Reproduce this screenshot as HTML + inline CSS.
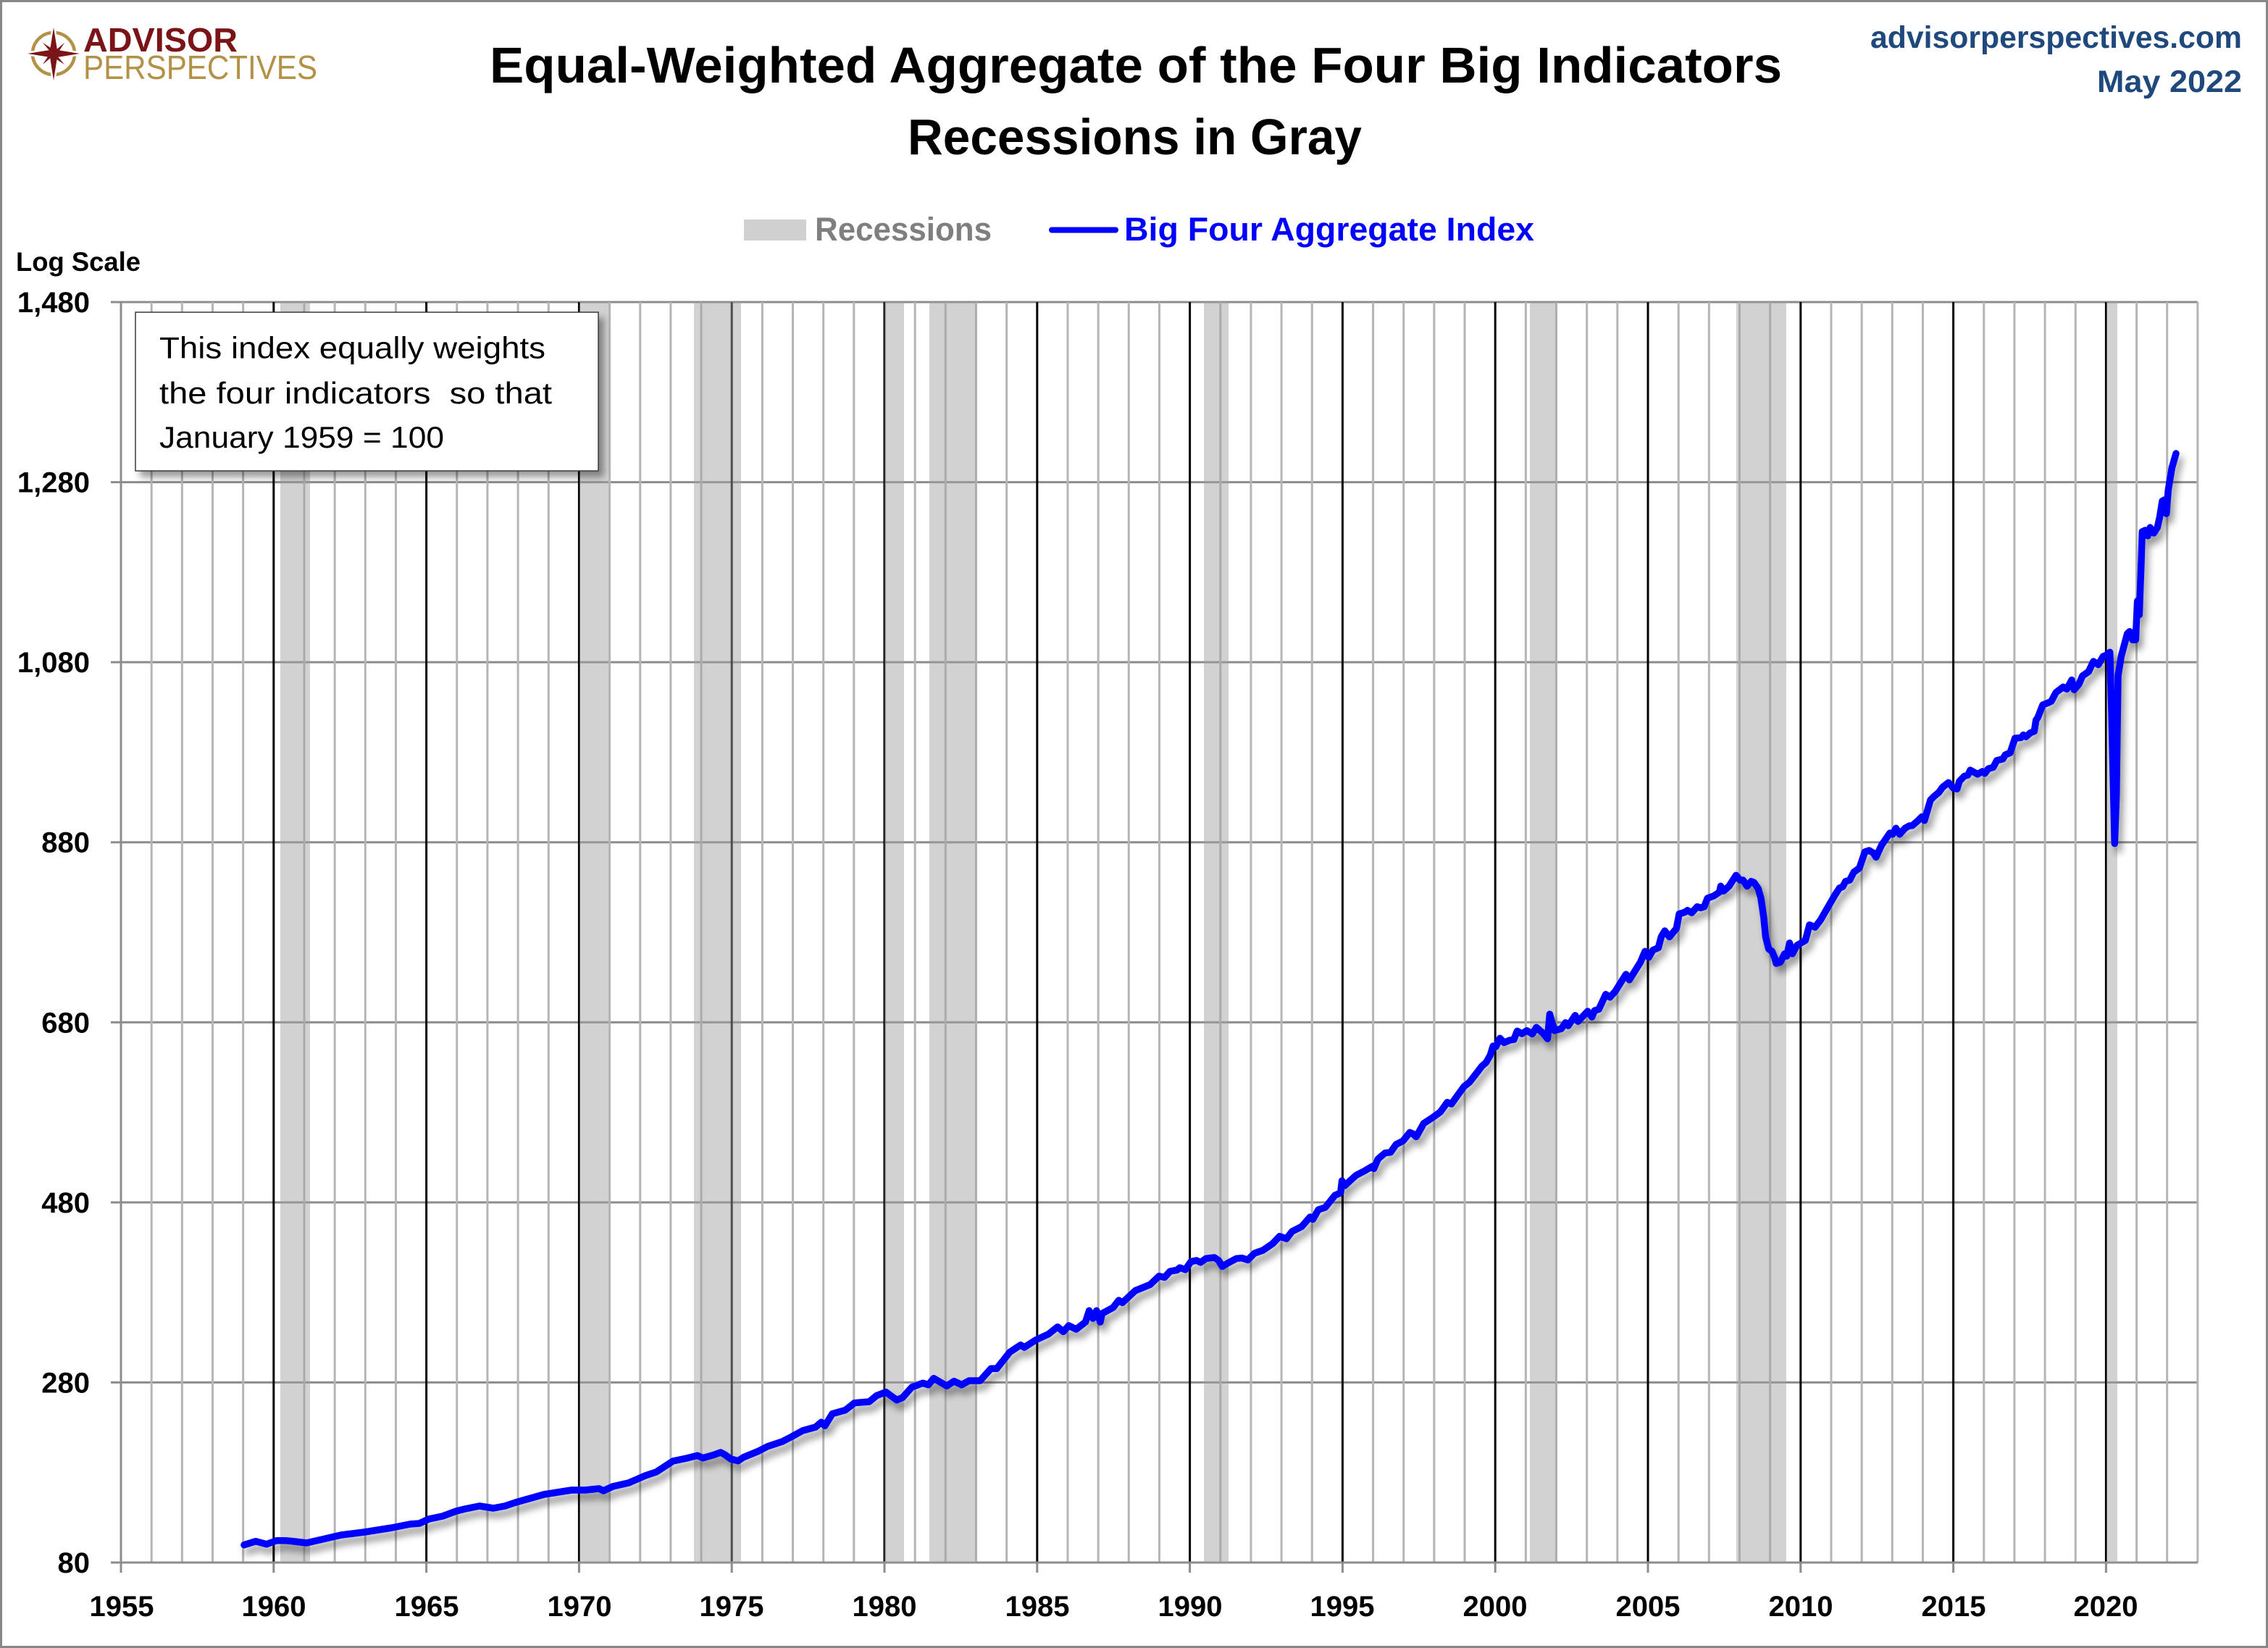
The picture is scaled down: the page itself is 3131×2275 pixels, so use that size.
<!DOCTYPE html>
<html><head><meta charset="utf-8"><style>
html,body{margin:0;padding:0;background:#fff;}
svg{display:block;}
text{font-family:"Liberation Sans",sans-serif;}
</style></head><body>
<svg width="3131" height="2275" viewBox="0 0 3131 2275" xmlns="http://www.w3.org/2000/svg">
<defs>
<filter id="sh" x="-5%" y="-5%" width="110%" height="110%">
<feGaussianBlur in="SourceAlpha" stdDeviation="5"/>
<feOffset dx="5" dy="9" result="o"/>
<feComponentTransfer><feFuncA type="linear" slope="0.4"/></feComponentTransfer>
<feMerge><feMergeNode/><feMergeNode in="SourceGraphic"/></feMerge>
</filter>
<filter id="bsh" x="-10%" y="-10%" width="120%" height="125%">
<feGaussianBlur in="SourceAlpha" stdDeviation="5"/>
<feOffset dx="7" dy="8"/>
<feComponentTransfer><feFuncA type="linear" slope="0.4"/></feComponentTransfer>
<feMerge><feMergeNode/><feMergeNode in="SourceGraphic"/></feMerge>
</filter>
</defs>
<rect x="0" y="0" width="3131" height="2275" fill="#fff"/>
<rect x="1.5" y="1.5" width="3128" height="2272" fill="none" stroke="#878787" stroke-width="3"/>

<!-- horizontal gridlines -->
<g stroke="#8c8c8c" stroke-width="3">
<line x1="153" y1="417" x2="3034" y2="417"/>
<line x1="153" y1="665.6" x2="3034" y2="665.6"/>
<line x1="153" y1="914.1" x2="3034" y2="914.1"/>
<line x1="153" y1="1162.7" x2="3034" y2="1162.7"/>
<line x1="153" y1="1411.3" x2="3034" y2="1411.3"/>
<line x1="153" y1="1659.9" x2="3034" y2="1659.9"/>
<line x1="153" y1="1908.4" x2="3034" y2="1908.4"/>
</g>

<!-- vertical gray gridlines -->
<g stroke="#b5b5b5" stroke-width="3">
<line x1="209.16" y1="417" x2="209.16" y2="2157"/>
<line x1="251.32" y1="417" x2="251.32" y2="2157"/>
<line x1="293.48" y1="417" x2="293.48" y2="2157"/>
<line x1="335.64" y1="417" x2="335.64" y2="2157"/>
<line x1="419.96" y1="417" x2="419.96" y2="2157"/>
<line x1="462.12" y1="417" x2="462.12" y2="2157"/>
<line x1="504.28" y1="417" x2="504.28" y2="2157"/>
<line x1="546.44" y1="417" x2="546.44" y2="2157"/>
<line x1="630.76" y1="417" x2="630.76" y2="2157"/>
<line x1="672.92" y1="417" x2="672.92" y2="2157"/>
<line x1="715.08" y1="417" x2="715.08" y2="2157"/>
<line x1="757.24" y1="417" x2="757.24" y2="2157"/>
<line x1="841.56" y1="417" x2="841.56" y2="2157"/>
<line x1="883.72" y1="417" x2="883.72" y2="2157"/>
<line x1="925.88" y1="417" x2="925.88" y2="2157"/>
<line x1="968.04" y1="417" x2="968.04" y2="2157"/>
<line x1="1052.36" y1="417" x2="1052.36" y2="2157"/>
<line x1="1094.52" y1="417" x2="1094.52" y2="2157"/>
<line x1="1136.68" y1="417" x2="1136.68" y2="2157"/>
<line x1="1178.84" y1="417" x2="1178.84" y2="2157"/>
<line x1="1263.16" y1="417" x2="1263.16" y2="2157"/>
<line x1="1305.32" y1="417" x2="1305.32" y2="2157"/>
<line x1="1347.48" y1="417" x2="1347.48" y2="2157"/>
<line x1="1389.64" y1="417" x2="1389.64" y2="2157"/>
<line x1="1473.96" y1="417" x2="1473.96" y2="2157"/>
<line x1="1516.12" y1="417" x2="1516.12" y2="2157"/>
<line x1="1558.28" y1="417" x2="1558.28" y2="2157"/>
<line x1="1600.44" y1="417" x2="1600.44" y2="2157"/>
<line x1="1684.76" y1="417" x2="1684.76" y2="2157"/>
<line x1="1726.92" y1="417" x2="1726.92" y2="2157"/>
<line x1="1769.08" y1="417" x2="1769.08" y2="2157"/>
<line x1="1811.24" y1="417" x2="1811.24" y2="2157"/>
<line x1="1895.56" y1="417" x2="1895.56" y2="2157"/>
<line x1="1937.72" y1="417" x2="1937.72" y2="2157"/>
<line x1="1979.88" y1="417" x2="1979.88" y2="2157"/>
<line x1="2022.04" y1="417" x2="2022.04" y2="2157"/>
<line x1="2106.36" y1="417" x2="2106.36" y2="2157"/>
<line x1="2148.52" y1="417" x2="2148.52" y2="2157"/>
<line x1="2190.68" y1="417" x2="2190.68" y2="2157"/>
<line x1="2232.84" y1="417" x2="2232.84" y2="2157"/>
<line x1="2317.16" y1="417" x2="2317.16" y2="2157"/>
<line x1="2359.32" y1="417" x2="2359.32" y2="2157"/>
<line x1="2401.48" y1="417" x2="2401.48" y2="2157"/>
<line x1="2443.64" y1="417" x2="2443.64" y2="2157"/>
<line x1="2527.96" y1="417" x2="2527.96" y2="2157"/>
<line x1="2570.12" y1="417" x2="2570.12" y2="2157"/>
<line x1="2612.28" y1="417" x2="2612.28" y2="2157"/>
<line x1="2654.44" y1="417" x2="2654.44" y2="2157"/>
<line x1="2738.76" y1="417" x2="2738.76" y2="2157"/>
<line x1="2780.92" y1="417" x2="2780.92" y2="2157"/>
<line x1="2823.08" y1="417" x2="2823.08" y2="2157"/>
<line x1="2865.24" y1="417" x2="2865.24" y2="2157"/>
<line x1="2949.56" y1="417" x2="2949.56" y2="2157"/>
<line x1="2991.72" y1="417" x2="2991.72" y2="2157"/>
<line x1="3033.88" y1="417" x2="3033.88" y2="2157"/>
</g>
<!-- black 5-year lines -->
<g stroke="#000" stroke-width="3">
<line x1="377.8" y1="417" x2="377.8" y2="2157"/>
<line x1="588.6" y1="417" x2="588.6" y2="2157"/>
<line x1="799.4" y1="417" x2="799.4" y2="2157"/>
<line x1="1010.2" y1="417" x2="1010.2" y2="2157"/>
<line x1="1221" y1="417" x2="1221" y2="2157"/>
<line x1="1431.8" y1="417" x2="1431.8" y2="2157"/>
<line x1="1642.6" y1="417" x2="1642.6" y2="2157"/>
<line x1="1853.4" y1="417" x2="1853.4" y2="2157"/>
<line x1="2064.2" y1="417" x2="2064.2" y2="2157"/>
<line x1="2275" y1="417" x2="2275" y2="2157"/>
<line x1="2485.8" y1="417" x2="2485.8" y2="2157"/>
<line x1="2696.6" y1="417" x2="2696.6" y2="2157"/>
<line x1="2907.4" y1="417" x2="2907.4" y2="2157"/>
</g>

<!-- axes -->
<g stroke="#8c8c8c" stroke-width="3">
<line x1="167" y1="417" x2="167" y2="2171"/>
<line x1="153" y1="2157" x2="3034" y2="2157"/>
<line x1="377.8" y1="2157" x2="377.8" y2="2171"/>
<line x1="588.6" y1="2157" x2="588.6" y2="2171"/>
<line x1="799.4" y1="2157" x2="799.4" y2="2171"/>
<line x1="1010.2" y1="2157" x2="1010.2" y2="2171"/>
<line x1="1221" y1="2157" x2="1221" y2="2171"/>
<line x1="1431.8" y1="2157" x2="1431.8" y2="2171"/>
<line x1="1642.6" y1="2157" x2="1642.6" y2="2171"/>
<line x1="1853.4" y1="2157" x2="1853.4" y2="2171"/>
<line x1="2064.2" y1="2157" x2="2064.2" y2="2171"/>
<line x1="2275" y1="2157" x2="2275" y2="2171"/>
<line x1="2485.8" y1="2157" x2="2485.8" y2="2171"/>
<line x1="2696.6" y1="2157" x2="2696.6" y2="2171"/>
<line x1="2907.4" y1="2157" x2="2907.4" y2="2171"/>
</g>

<!-- recession bands -->
<g fill="rgb(160,160,160)" fill-opacity="0.48">
<rect x="387" y="417" width="41" height="1740"/>
<rect x="800" y="417" width="40" height="1740"/>
<rect x="958" y="417" width="65" height="1740"/>
<rect x="1221" y="417" width="27" height="1740"/>
<rect x="1283" y="417" width="65" height="1740"/>
<rect x="1662" y="417" width="34" height="1740"/>
<rect x="2112" y="417" width="37" height="1740"/>
<rect x="2397" y="417" width="69" height="1740"/>
<rect x="2908" y="417" width="15" height="1740"/>
</g>

<!-- series -->
<polyline filter="url(#sh)" fill="none" stroke="#0000ff" stroke-width="9.5" stroke-linejoin="round" stroke-linecap="round" points="
337,2132.7 353,2127.7 368,2131.7 382,2126.7 394,2126.7 407,2128 423,2130 445,2125 471,2119 503,2115 541,2109 566,2104 579,2103 592,2097 611,2093 630,2086 642,2083 662,2079 681,2082 697,2079 712,2074 751,2063 789,2057 808,2057 827,2055 833,2058 846,2052 868,2047 891,2037 906,2032 929,2017 948,2013
962.8,2009.3 970.4,2012.7 985.7,2008.3 994.9,2005 1001,2008.3 1008.7,2014 1018.9,2016.7 1026.5,2011.7 1047,2003.3 1059.7,1996.7 1080,1990 1092.9,1983.3 1108,1975 1126,1970 1133.7,1963.3 1138.8,1968.3 1149,1951.7 1166.8,1946.7 1179.6,1936.7 1200,1935 1210,1926.7 1223,1921.7 1238,1932.7 1246,1929.3 1258.7,1915 1274,1909.3 1281.6,1911.7 1289,1902.7 1307,1913.3 1317,1906.7 1327.6,1911.7 1337.8,1906 1353,1906 1368,1889.3 1376,1889.3 1393.9,1866.7 1409,1856.7 1414,1860 1429.6,1850 1447.4,1841.7 1460,1831.7 1467.9,1838.3 1475.5,1830 1485.7,1835 1498.5,1825 1503.6,1809.3 1508.7,1820 1513.8,1809.3 1518.9,1825 1521.4,1813.3 1536.7,1805 1544.4,1795 1549.5,1798.3 1567.3,1781.7 1587.8,1773.3
1600,1761.7 1607.7,1763.3 1615.3,1755 1624.9,1753.3 1628.7,1750 1636.4,1752.7 1644,1741.7 1651.7,1740 1657.4,1742.7 1665,1737.3 1676.5,1736 1682.3,1740 1687.3,1748.3 1695.7,1743.3 1707,1737.3 1714.8,1736.7 1722.5,1739.3 1732,1730 1743.5,1726 1757,1716.7 1766.5,1706.7 1776,1710 1783.7,1700 1797,1693.3 1808.6,1680 1812.4,1683.3 1820,1670 1829.6,1666.7 1843,1650 1850.7,1646.7 1852.6,1630 1856.4,1636.7 1871.7,1622.7 1883.2,1616.7 1894.7,1610 1896.6,1613.3 1902.3,1600 1912,1591.7 1919.6,1590.7 1927.2,1580 1936.8,1575 1946.3,1563.3 1950.2,1565 1955.1,1569.3 1965.5,1550.7 1977,1543.3 1988.4,1535 1998,1521.7 2003.7,1524 2011.4,1513.3 2021,1500 2028.6,1494 2038.2,1481.7 2045.8,1471.7 2051.6,1466.7 2057.3,1456.7 2061.2,1444 2065,1445 2070.7,1433.3 2076.5,1439.3 2084.1,1436 2089.9,1435 2094.5,1423.3 2101,1427
2107.7,1422.7 2115.3,1427.3 2121,1418.3 2130.6,1426.7 2136.4,1434 2139.4,1400 2145.9,1422.7 2155.5,1420 2161.2,1411.7 2165,1416 2174.6,1401.7 2178.5,1410 2191.8,1396 2197.6,1404 2201.4,1395 2207.2,1393.3 2216.7,1372.7 2222.5,1376.7 2230.1,1368.3 2239.7,1352.7 2244.7,1345 2249.3,1352.7 2253.1,1346.7 2264.6,1328.3 2271,1313.3 2276,1321.7 2281.8,1311.7 2289.4,1308.3 2293.3,1293.3 2298.2,1285 2304.7,1293.3 2314.3,1281.7 2318.1,1261.7 2325.8,1259.3 2329.6,1256.7 2335.4,1260 2343,1251.7 2348,1253.3 2352.6,1251.7 2357.2,1240 2366,1236.7 2373.6,1231.7 2375.5,1223.3 2379.4,1230 2387,1223.3 2396.6,1208.3 2402.3,1215 2406.2,1215 2411.9,1223.3 2417.6,1216.7 2421.5,1218.3 2427.2,1226.7 2431,1240 2434.9,1266.7 2437.5,1293.3 2441.7,1310 2446.3,1313.3 2450.2,1322.7 2452.1,1330 2457.8,1328.3 2463.6,1316.7 2466.6,1320 2470.5,1301.7 2474.3,1316.7 2480.8,1305 2486.5,1301.7 2492.3,1298.3 2498,1276.7 2505.7,1280 2513.3,1270 2522.9,1253.3 2532.5,1236.7 2539.3,1226 2543.9,1224 2547.8,1216.7 2553.5,1215 2559.2,1204 2566.9,1198.3 2574.5,1176 2580.3,1174 2586,1177.3 2589.9,1183.3 2597.5,1166.7 2609,1150 2612.8,1151.7 2617.4,1143.3 2622.4,1151.7 2630,1143.3 2635.8,1140
2640,1139.6 2646.7,1133.9 2653.3,1127.4 2656.7,1132.7 2665,1104.4 2670,1099.4 2676.7,1093.7 2681.7,1086.8 2690,1080.3 2696.7,1088 2701.7,1089.1 2705,1078.4 2711.7,1071.5 2716.7,1070 2720,1063.1 2730,1068.8 2736.7,1065 2740,1067.7 2745,1061.2 2751.7,1059.2 2756.7,1049.7 2765,1047.7 2768.3,1042 2775,1039.3 2781.7,1019.1 2790,1018.3 2793.3,1014.5 2796.7,1017.1 2803.3,1011.4 2808.3,1009.5 2810.7,994.2 2813.3,990.4 2820,973.1 2826.7,970.5 2831.7,968.2 2838.3,955.9 2848.3,948.3 2853.3,951.3 2860,938.7 2863.3,952.1 2870,944.4 2875,932.9 2883.3,927.2 2890,913 2896.7,917.6 2903.3,906.2 2908.3,904.2 2912.7,900.4 2915,982.7 2919.3,1164.5 2921.7,1097.5 2924,933 2928.3,906.2 2936.7,874.8 2940,871.7 2944,883.2 2948.3,883.2 2950.7,829.6 2953.3,848.8 2956,776 2957.3,734 2961.7,732 2965,739.7 2968.3,728.2 2973.3,735.9 2978.3,728.2 2981.7,712.9 2985,691.8 2988.3,689.9 2990.7,709.1 2993.3,676.5 2998.3,645.9 3004,626"/>

<!-- text box -->
<rect x="187" y="431" width="639" height="219" fill="#fff" stroke="#3a3a3a" stroke-width="1.5" filter="url(#bsh)"/>
<g font-size="42" fill="#000">
<text x="220" y="494.6" textLength="533" lengthAdjust="spacingAndGlyphs">This index equally weights</text>
<text x="220" y="557" textLength="542" lengthAdjust="spacingAndGlyphs">the four indicators &#160;so that</text>
<text x="220" y="618" textLength="393" lengthAdjust="spacingAndGlyphs">January 1959 = 100</text>
</g>

<!-- y labels -->
<g font-size="40" font-weight="bold" fill="#000" text-anchor="end">
<text x="124" y="431">1,480</text>
<text x="124" y="679.6">1,280</text>
<text x="124" y="928.1">1,080</text>
<text x="124" y="1176.7">880</text>
<text x="124" y="1425.3">680</text>
<text x="124" y="1673.9">480</text>
<text x="124" y="1922.4">280</text>
<text x="124" y="2171">80</text>
</g>
<text x="22" y="374" font-size="37" font-weight="bold" fill="#000" textLength="172" lengthAdjust="spacingAndGlyphs">Log Scale</text>

<!-- x labels -->
<g font-size="40" font-weight="bold" fill="#000" text-anchor="middle">
<text x="168" y="2231">1955</text>
<text x="378" y="2231">1960</text>
<text x="589" y="2231">1965</text>
<text x="800" y="2231">1970</text>
<text x="1010" y="2231">1975</text>
<text x="1221" y="2231">1980</text>
<text x="1432" y="2231">1985</text>
<text x="1643" y="2231">1990</text>
<text x="1853" y="2231">1995</text>
<text x="2064" y="2231">2000</text>
<text x="2275" y="2231">2005</text>
<text x="2486" y="2231">2010</text>
<text x="2697" y="2231">2015</text>
<text x="2907" y="2231">2020</text>
</g>

<!-- titles -->
<text x="676" y="114" font-size="70" font-weight="bold" fill="#000" textLength="1784" lengthAdjust="spacingAndGlyphs">Equal-Weighted Aggregate of the Four Big Indicators</text>
<text x="1253" y="213" font-size="70" font-weight="bold" fill="#000" textLength="627" lengthAdjust="spacingAndGlyphs">Recessions in Gray</text>

<!-- top right -->
<text x="2582" y="66" font-size="43" font-weight="bold" fill="#1f497d" textLength="513" lengthAdjust="spacingAndGlyphs">advisorperspectives.com</text>
<text x="2895" y="127" font-size="43" font-weight="bold" fill="#1f497d" textLength="200" lengthAdjust="spacingAndGlyphs">May 2022</text>

<!-- legend -->
<rect x="1027" y="303" width="86" height="29" fill="#d0d0d0"/>
<text x="1125" y="332" font-size="45" font-weight="bold" fill="#7f7f7f" textLength="244" lengthAdjust="spacingAndGlyphs">Recessions</text>
<line x1="1452" y1="317.5" x2="1540" y2="317.5" stroke="#0000ff" stroke-width="8" stroke-linecap="round"/>
<text x="1552" y="332" font-size="45" font-weight="bold" fill="#0000ff" textLength="566" lengthAdjust="spacingAndGlyphs">Big Four Aggregate Index</text>

<!-- logo -->
<circle cx="74" cy="74" r="29" fill="none" stroke="#b39247" stroke-width="4.5"/>
<polygon points="74,38 79,69 110,74 79,79 74,111 69,79 38,74 69,69" fill="#7a1416" stroke="#fff" stroke-width="5" stroke-linejoin="miter"/>
<polygon points="74,38 79,69 110,74 79,79 74,111 69,79 38,74 69,69" fill="#7a1416"/>
<polygon points="59,59 76,70 89,59 78,76 89,89 72,78 59,89 70,72" fill="#7a1416"/>
<text x="115" y="71" font-size="46" font-weight="bold" fill="#7a1416" textLength="213" lengthAdjust="spacingAndGlyphs">ADVISOR</text>
<text x="115" y="109" font-size="46" fill="#b39247" textLength="323" lengthAdjust="spacingAndGlyphs">PERSPECTIVES</text>
</svg>
</body></html>
